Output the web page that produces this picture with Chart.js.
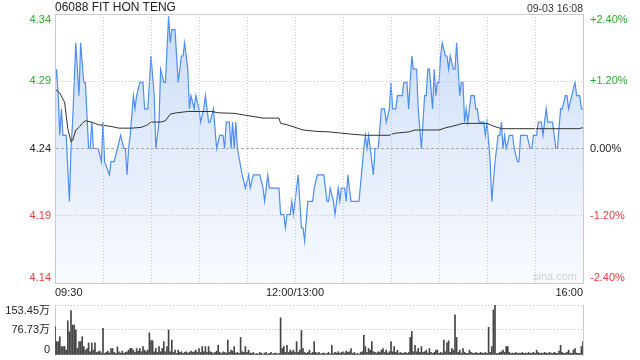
<!DOCTYPE html>
<html>
<head>
<meta charset="utf-8">
<script src="https://cdn.jsdelivr.net/npm/chart.js@4.4.1/dist/chart.umd.min.js"></script>
<style>
  html, body { margin: 0; padding: 0; background: #fff; }
  #wrap { position: relative; width: 640px; height: 360px; overflow: hidden;
          font-family: "Liberation Sans", Arial, sans-serif; }
  canvas { position: absolute; left: 0; }
  #priceChart { top: 0; }
  #volChart { top: 300px; }
  .txt { position: absolute; white-space: nowrap; }
  #title { left: 55px; top: 1px; font-size: 12px; line-height: 13px; color: #222; }
  #stamp { right: 57px; top: 2px; font-size: 10.5px; line-height: 12px; color: #333; }
  #mark { left: 533px; top: 270px; font-size: 11px; line-height: 13px; color: #d2d2d2; }
</style>
</head>
<body>
<div id="wrap">
  <canvas id="priceChart" width="640" height="300"></canvas>
  <canvas id="volChart" width="640" height="60"></canvas>
  <div class="txt" id="title">06088 FIT HON TENG</div>
  <div class="txt" id="stamp">09-03 16:08</div>
  <div class="txt" id="mark">sina.com</div>
</div>
<script>
"use strict";

const FONT = '"Liberation Sans", Arial, "Noto Sans CJK SC", sans-serif';
const GREEN = "#2ea82e", RED = "#ee3b3b", INK = "#222";
const GRID = "#c4c4c4", FRAME = "#cccccc";

// 昨收與刻度
const BASE = 4.24;
const pctTicks = [-2.4, -1.2, 0, 1.2, 2.4];
const priceTickLabels = ["4.14", "4.19", "4.24", "4.29", "4.34"];
const pctTickLabels = ["-2.40%", "-1.20%", "0.00%", "+1.20%", "+2.40%"];
const timeTicks = [0, 30, 60, 90, 120, 150, 180, 210, 240, 270, 300, 330];   // 交易分鐘
const timeLabelMin = [0, 150, 330];
const timeLabelText = ["09:30", "12:00/13:00", "16:00"];

// 分時價格（轉折點：交易分鐘, 價格）
const priceMin = [0, 1, 2, 3, 4, 5, 7, 9, 10, 11, 13, 15, 16, 18, 19, 21, 22, 23, 24, 27,
  29, 30, 31, 34, 35, 37, 39, 41, 43, 44, 45, 46, 47, 49, 50, 51, 53, 55, 56, 58,
  60, 62, 63, 65, 66, 68, 69, 71, 72, 73, 75, 77, 79, 80, 81, 83, 84, 85, 87, 88,
  90, 91, 93, 94, 96, 97, 99, 101, 103, 105, 106, 107, 108, 109, 110, 111, 112, 113, 114, 117,
  119, 121, 122, 124, 128, 130, 131, 133, 134, 140, 141, 143, 144, 145, 147, 148, 149, 152, 154, 155,
  156, 158, 161, 162, 164, 168, 170, 171, 172, 174, 175, 177, 178, 179, 181, 182, 183, 185, 190, 193,
  194, 195, 196, 199, 200, 202, 204, 206, 207, 209, 210, 211, 213, 214, 217, 218, 220, 221, 223, 224,
  226, 227, 229, 231, 232, 233, 234, 236, 237, 238, 239, 240, 241, 242, 244, 245, 246, 247, 249, 250,
  251, 253, 254, 255, 256, 257, 258, 260, 262, 263, 264, 265, 268, 269, 270, 272, 273, 275, 276, 277,
  278, 279, 280, 281, 282, 284, 286, 287, 289, 290, 291, 295, 297, 298, 299, 301, 302, 304, 305, 307,
  308, 311, 313, 314, 316, 317, 319, 320, 321, 323, 325, 326, 328, 329, 330];
const price = [4.29, 4.30, 4.28, 4.25, 4.27, 4.25, 4.25, 4.20, 4.24, 4.26, 4.32, 4.28, 4.32, 4.29, 4.29, 4.24, 4.24, 4.26, 4.24, 4.24,
  4.23, 4.26, 4.23, 4.22, 4.23, 4.23, 4.24, 4.25, 4.24, 4.24, 4.22, 4.24, 4.25, 4.28, 4.27, 4.28, 4.29, 4.29, 4.27, 4.27,
  4.31, 4.28, 4.24, 4.26, 4.30, 4.29, 4.29, 4.34, 4.32, 4.33, 4.33, 4.29, 4.31, 4.31, 4.32, 4.30, 4.27, 4.28, 4.27, 4.28,
  4.27, 4.26, 4.27, 4.28, 4.26, 4.26, 4.27, 4.24, 4.25, 4.25, 4.24, 4.26, 4.26, 4.26, 4.24, 4.26, 4.24, 4.26, 4.24, 4.22,
  4.21, 4.22, 4.21, 4.22, 4.22, 4.21, 4.20, 4.22, 4.21, 4.21, 4.19, 4.19, 4.18, 4.19, 4.19, 4.20, 4.19, 4.22, 4.18, 4.18,
  4.17, 4.20, 4.20, 4.21, 4.22, 4.22, 4.20, 4.20, 4.21, 4.20, 4.19, 4.21, 4.20, 4.21, 4.21, 4.20, 4.22, 4.20, 4.20, 4.24,
  4.25, 4.24, 4.25, 4.22, 4.24, 4.24, 4.27, 4.27, 4.26, 4.27, 4.29, 4.27, 4.27, 4.28, 4.28, 4.29, 4.29, 4.27, 4.31, 4.30,
  4.30, 4.27, 4.24, 4.28, 4.28, 4.30, 4.30, 4.27, 4.30, 4.28, 4.29, 4.29, 4.31, 4.32, 4.31, 4.31, 4.30, 4.31, 4.30, 4.30,
  4.32, 4.28, 4.29, 4.29, 4.26, 4.27, 4.26, 4.28, 4.28, 4.27, 4.27, 4.26, 4.26, 4.25, 4.26, 4.23, 4.20, 4.23, 4.24, 4.25,
  4.25, 4.26, 4.24, 4.25, 4.24, 4.25, 4.25, 4.24, 4.23, 4.23, 4.25, 4.25, 4.24, 4.24, 4.25, 4.25, 4.26, 4.26, 4.25, 4.27,
  4.26, 4.26, 4.24, 4.24, 4.27, 4.27, 4.28, 4.28, 4.27, 4.28, 4.29, 4.28, 4.28, 4.27, 4.27];

// 均價線（轉折點）
const avgMin = [0, 3, 6, 8, 10, 11, 13, 15, 17, 19, 23, 27, 35, 40, 48, 54, 58, 60, 66, 69,
  72, 76, 83, 98, 102, 112, 120, 130, 140, 141, 145, 150, 155, 163, 172, 184, 194, 209, 212, 221,
  225, 240, 245, 248, 255, 270, 273, 279, 302, 327, 330];
const avgPrice = [4.285, 4.282, 4.275, 4.255, 4.245, 4.246, 4.254, 4.256, 4.259, 4.261, 4.260, 4.258, 4.2567, 4.2554, 4.2554, 4.256, 4.258, 4.260, 4.260, 4.261,
  4.266, 4.267, 4.268, 4.268, 4.267, 4.2666, 4.265, 4.263, 4.263, 4.259, 4.258, 4.256, 4.254, 4.253, 4.2525, 4.251, 4.250, 4.250, 4.2515, 4.2525,
  4.254, 4.254, 4.256, 4.2567, 4.259, 4.259, 4.2574, 4.255, 4.255, 4.255, 4.2557];

// 每分鐘成交量（萬股），每行 30 分鐘
const volume = [
  87, 41, 41, 56, 26, 26, 26, 15, 105, 71, 136, 92, 92, 77, 20, 41, 41, 56, 26, 15, 20, 37, 10, 37, 15, 37, 8, 10, 12, 6,
  82, 5, 8, 12, 6, 20, 20, 8, 5, 25, 10, 6, 12, 5, 8, 10, 15, 20, 20, 15, 8, 20, 12, 20, 10, 26, 15, 10, 15, 68,
  44, 44, 10, 20, 8, 26, 10, 20, 41, 10, 26, 77, 10, 46, 8, 15, 5, 15, 8, 10, 5, 8, 10, 6, 8, 12, 8, 10, 15, 8,
  20, 8, 26, 10, 26, 8, 26, 10, 8, 5, 8, 12, 30, 8, 5, 10, 8, 6, 46, 8, 15, 12, 26, 6, 8, 5, 54, 10, 8, 26,
  8, 15, 6, 5, 8, 3, 5, 3, 8, 5, 3, 6, 8, 3, 5, 8, 3, 5, 6, 3, 5, 114, 20, 26, 8, 30, 8, 15, 10, 15,
  8, 41, 8, 15, 75, 20, 8, 5, 8, 15, 5, 8, 41, 8, 5, 8, 3, 5, 6, 3, 5, 8, 3, 30, 5, 8, 6, 10, 5, 8,
  10, 6, 12, 8, 10, 20, 5, 8, 3, 5, 3, 8, 10, 61, 26, 8, 20, 15, 41, 10, 8, 6, 10, 8, 15, 20, 8, 15, 6, 10,
  41, 10, 26, 8, 15, 6, 8, 5, 6, 8, 5, 8, 54, 73, 10, 30, 10, 20, 8, 26, 8, 10, 15, 6, 20, 8, 5, 8, 15, 15,
  5, 8, 6, 46, 10, 37, 44, 8, 20, 15, 123, 54, 8, 15, 6, 20, 8, 5, 5, 15, 8, 6, 5, 8, 6, 5, 8, 6, 5, 8,
  5, 85, 8, 26, 138, 153.45, 5, 5, 8, 10, 15, 8, 26, 26, 8, 5, 6, 5, 8, 5, 6, 5, 8, 5, 6, 5, 8, 5, 6, 8,
  5, 15, 8, 5, 6, 5, 8, 6, 5, 8, 6, 5, 8, 6, 5, 12, 30, 8, 5, 6, 8, 15, 6, 5, 15, 20, 6, 5, 5, 26, 41];
const volTicks = [0, 76.73, 153.45];
const volTickLabels = ["0", "76.73万", "153.45万"];

const toPrice = (p) => BASE * (1 + p / 100);
const tickColor = (p) => (p > 0 ? GREEN : p < 0 ? RED : INK);

// 兩端刻度字往內收，中間置中
function edgeBaseline(i, n) {
  return i === n - 1 ? "top" : i === 0 ? "bottom" : "middle";
}

const priceLabels = {
  id: "priceLabels",
  afterDraw(chart) {
    const { ctx, chartArea: a, scales: { y2 } } = chart;
    ctx.save();
    ctx.font = "11px " + FONT;
    pctTicks.forEach((p, i) => {
      const py = y2.getPixelForValue(p);
      ctx.textBaseline = edgeBaseline(i, pctTicks.length);
      ctx.fillStyle = tickColor(p);
      ctx.textAlign = "right";
      ctx.fillText(priceTickLabels[i], a.left - 4, py);
      ctx.textAlign = "left";
      ctx.fillText(pctTickLabels[i], a.right + 7, py);
    });
    ctx.restore();
  },
};

const volLabels = {
  id: "volLabels",
  afterDraw(chart) {
    const { ctx, chartArea: a, scales: { y } } = chart;
    ctx.save();
    ctx.font = "11px " + FONT;
    ctx.fillStyle = INK;
    ctx.textAlign = "right";
    volTicks.forEach((v, i) => {
      ctx.textBaseline = edgeBaseline(i, volTicks.length);
      ctx.fillText(volTickLabels[i], a.left - 5, y.getPixelForValue(v));
    });
    ctx.restore();
  },
};

function areaFill(c) {
  const a = c.chart.chartArea;
  if (!a) return "rgba(0,0,0,0)";
  const g = c.chart.ctx.createLinearGradient(0, a.top, 0, a.bottom);
  g.addColorStop(0, "#c8dbf7");
  g.addColorStop(0.5, "#e3ecfb");
  g.addColorStop(1, "#f8fafe");
  return g;
}

new Chart(document.getElementById("priceChart"), {
  type: "line",
  data: {
    datasets: [
      { data: avgMin.map((m, i) => ({ x: m, y: avgPrice[i] })),
        borderColor: "#333", borderWidth: 1, pointRadius: 0, fill: false, tension: 0 },
      { data: priceMin.map((m, i) => ({ x: m, y: price[i] })),
        borderColor: "#4d8ef5", borderWidth: 1.2, pointRadius: 0, tension: 0,
        fill: "start", backgroundColor: areaFill },
    ],
  },
  options: {
    responsive: false, animation: false,
    layout: { padding: { top: 14, left: 0, right: 0, bottom: 0 } },
    plugins: { legend: { display: false }, tooltip: { enabled: false } },
    scales: {
      x: {
        type: "linear", min: 0, max: 330,
        afterBuildTicks: (s) => { s.ticks = timeTicks.map((v) => ({ value: v })); },
        afterFit: (s) => { s.height = 17; },
        ticks: {
          autoSkip: false, maxRotation: 0, align: "inner", padding: 3,
          color: INK, font: { size: 11, family: FONT },
          callback: (v) => {
            const k = timeLabelMin.indexOf(v);
            return k >= 0 ? timeLabelText[k] : "";
          },
        },
        grid: { z: 1, drawTicks: false,
                color: (c) => (c.index === 0 || c.index === timeTicks.length - 1 ? FRAME : GRID) },
        border: { display: true, color: FRAME, z: 1,
                  dash: (c) => (c.index === 0 || c.index === timeTicks.length - 1 ? [] : [1, 2]) },
      },
      y: {
        min: toPrice(pctTicks[0]), max: toPrice(pctTicks[pctTicks.length - 1]),
        afterBuildTicks: (s) => { s.ticks = pctTicks.map((p) => ({ value: toPrice(p) })); },
        afterFit: (s) => { s.width = 55; },
        ticks: { display: false },
        grid: { z: 1, drawTicks: false,
                color: (c) => (c.index === 2 ? "#a8a8a8" : c.index === 4 ? FRAME : GRID) },
        border: { display: true, color: FRAME, z: 1,
                  dash: (c) => (c.index === 2 ? [3, 2] : c.index === 4 ? [] : [1, 2]) },
      },
      y2: {
        position: "right", display: true,
        min: pctTicks[0], max: pctTicks[pctTicks.length - 1],
        afterFit: (s) => { s.width = 57; },
        ticks: { display: false },
        grid: { display: false },
        border: { display: true, color: FRAME, z: 1 },
      },
    },
  },
  plugins: [priceLabels],
});

new Chart(document.getElementById("volChart"), {
  type: "bar",
  data: {
    datasets: [{ data: volume.map((v, i) => ({ x: i, y: v })),
                 backgroundColor: "#444", barThickness: 1 }],
  },
  options: {
    responsive: false, animation: false,
    layout: { padding: { top: 5, bottom: 5, left: 0, right: 0 } },
    plugins: { legend: { display: false }, tooltip: { enabled: false } },
    scales: {
      x: { type: "linear", min: 0, max: 330, offset: false, display: false },
      y: {
        min: 0, max: volTicks[volTicks.length - 1],
        afterBuildTicks: (s) => { s.ticks = volTicks.map((v) => ({ value: v })); },
        afterFit: (s) => { s.width = 55; },
        ticks: { display: false },
        grid: { drawTicks: false, color: (c) => (c.index === 0 ? "rgba(0,0,0,0)" : GRID) },
        border: { display: true, color: FRAME, dash: [1, 2] },
      },
      y2: {
        position: "right", display: true, min: 0, max: 1,
        afterFit: (s) => { s.width = 57; },
        ticks: { display: false },
        grid: { display: false },
        border: { display: true, color: FRAME },
      },
    },
  },
  plugins: [volLabels],
});
</script>
</body>
</html>
